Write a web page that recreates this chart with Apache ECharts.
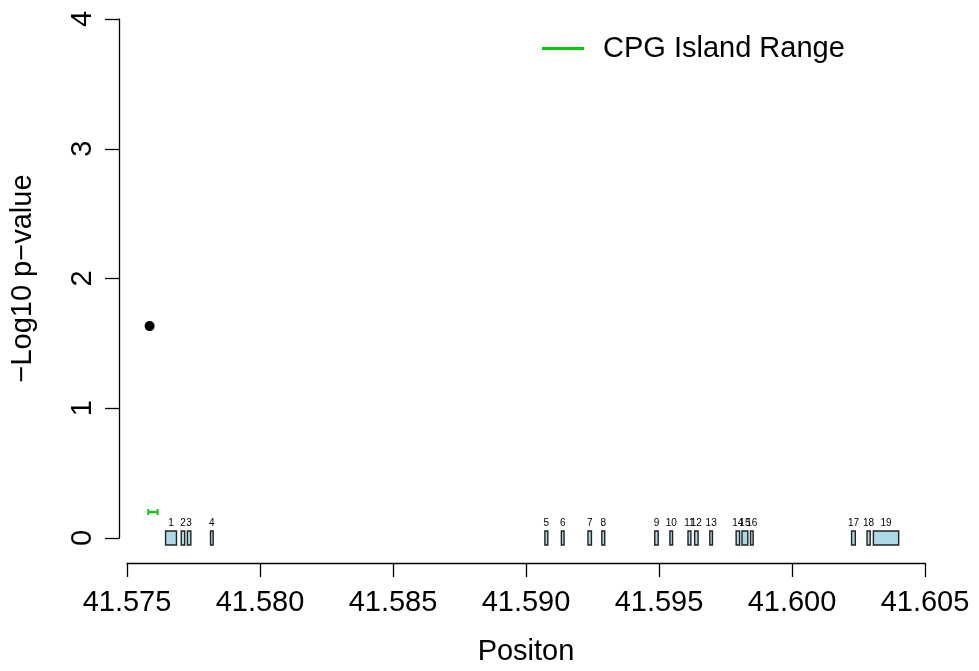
<!DOCTYPE html>
<html>
<head>
<meta charset="utf-8">
<script src="https://cdn.jsdelivr.net/npm/echarts@6/dist/echarts.min.js"></script>
<style>
  html, body { margin: 0; padding: 0; background: #ffffff; }
  #chart { width: 979px; height: 671px; }
</style>
</head>
<body>
<div id="chart"></div>
<script>
// Genomic position axis (Mb) and -log10 p-value axis
const xTicks = [41.575, 41.580, 41.585, 41.590, 41.595, 41.600, 41.605];
const yTicks = [0, 1, 2, 3, 4];

// Tested CpG site(s)
const sitePos = [41.57585];
const siteLogP = [1.633];

// CpG island extent, drawn as a range bar
const cpgStart = [41.57580];
const cpgEnd = [41.57615];
const cpgLevel = [0.2];

// Exon structure along the gene
const exonLabel = ['1','2','3','4','5','6','7','8','9','10','11','12','13','14','15','16','17','18','19'];
const exonStart = [41.57645, 41.57704, 41.57727, 41.57814, 41.59071, 41.59133, 41.59233, 41.59285,
                   41.59484, 41.59541, 41.59609, 41.59634, 41.59691, 41.59790, 41.59812, 41.59844,
                   41.60224, 41.60282, 41.60306];
const exonEnd   = [41.57686, 41.57717, 41.57740, 41.57824, 41.59082, 41.59143, 41.59246, 41.59296,
                   41.59497, 41.59551, 41.59620, 41.59647, 41.59701, 41.59803, 41.59834, 41.59854,
                   41.60238, 41.60294, 41.60401];

const FONT = "'Liberation Sans', Arial, Helvetica, sans-serif";
const chart = echarts.init(document.getElementById('chart'), null, { renderer: 'canvas' });

const exonData = exonLabel.map((l, i) => [exonStart[i], exonEnd[i], l]);
const cpgData = cpgStart.map((s, i) => [s, cpgEnd[i], cpgLevel[i]]);
const siteData = sitePos.map((p, i) => [p, siteLogP[i]]);

chart.setOption({
  animation: false,
  backgroundColor: '#ffffff',
  grid: { left: 125, right: 54, top: 19, bottom: 131, containLabel: false },
  legend: {
    left: 537, top: 29,
    itemWidth: 42, itemHeight: 3,
    textStyle: { fontFamily: FONT, fontSize: 29, color: '#000', padding: [0, 0, 0, 14] },
    data: [{ name: 'CPG Island Range', icon: 'rect' }]
  },
  xAxis: {
    type: 'value',
    min: xTicks[0], max: xTicks[xTicks.length - 1], interval: 0.005,
    offset: 25,
    name: 'Positon', nameLocation: 'middle', nameGap: 74,
    nameTextStyle: { fontFamily: FONT, fontSize: 29, color: '#000' },
    axisLine: { show: true, onZero: false, lineStyle: { color: '#000', width: 1.3 } },
    axisTick: { show: true, length: 14, lineStyle: { color: '#000', width: 1.3 } },
    axisLabel: { fontFamily: FONT, fontSize: 29, color: '#000', margin: 25,
                 formatter: v => v.toFixed(3) },
    splitLine: { show: false }
  },
  yAxis: {
    type: 'value',
    min: yTicks[0], max: yTicks[yTicks.length - 1], interval: 1,
    offset: 8,
    name: '\u2212Log10 p\u2212value', nameLocation: 'middle', nameGap: 82, nameRotate: 90,
    nameTextStyle: { fontFamily: FONT, fontSize: 29, color: '#000' },
    axisLine: { show: true, onZero: false, lineStyle: { color: '#000', width: 1.3 } },
    axisTick: { show: true, length: 14, lineStyle: { color: '#000', width: 1.3 } },
    axisLabel: { fontFamily: FONT, fontSize: 29, color: '#000', margin: 22, rotate: 90 },
    splitLine: { show: false }
  },
  series: [
    {
      type: 'scatter',
      name: 'site',
      data: siteData,
      symbol: 'circle', symbolSize: 10,
      itemStyle: { color: '#000', opacity: 1 },
      z: 5
    },
    {
      type: 'custom',
      name: 'CPG Island Range',
      itemStyle: { color: '#00CD00' },
      data: cpgData,
      clip: false,
      renderItem: function (params, api) {
        const a = api.coord([api.value(0), api.value(2)]);
        const b = api.coord([api.value(1), api.value(2)]);
        const st = { stroke: '#00CD00', lineWidth: 2 };
        return {
          type: 'group',
          children: [
            { type: 'line', shape: { x1: a[0], y1: a[1], x2: b[0], y2: b[1] }, style: st },
            { type: 'line', shape: { x1: a[0], y1: a[1] - 3, x2: a[0], y2: a[1] + 3 }, style: st },
            { type: 'line', shape: { x1: b[0], y1: b[1] - 3, x2: b[0], y2: b[1] + 3 }, style: st }
          ]
        };
      }
    },
    {
      type: 'custom',
      name: 'exons',
      data: exonData,
      clip: false,
      renderItem: function (params, api) {
        const a = api.coord([api.value(0), 0]);
        const b = api.coord([api.value(1), 0]);
        const half = 7;
        return {
          type: 'group',
          children: [
            {
              type: 'rect',
              shape: { x: a[0], y: a[1] - half, width: Math.max(b[0] - a[0], 1), height: half * 2 },
              style: { fill: '#ADD8E6', stroke: '#222', lineWidth: 1.4 }
            },
            {
              type: 'text',
              style: {
                text: exonData[params.dataIndex][2],
                x: (a[0] + b[0]) / 2, y: a[1] - half - 3,
                align: 'center', verticalAlign: 'bottom',
                font: '10px ' + FONT, fill: '#000'
              }
            }
          ]
        };
      }
    }
  ]
});
</script>
</body>
</html>
